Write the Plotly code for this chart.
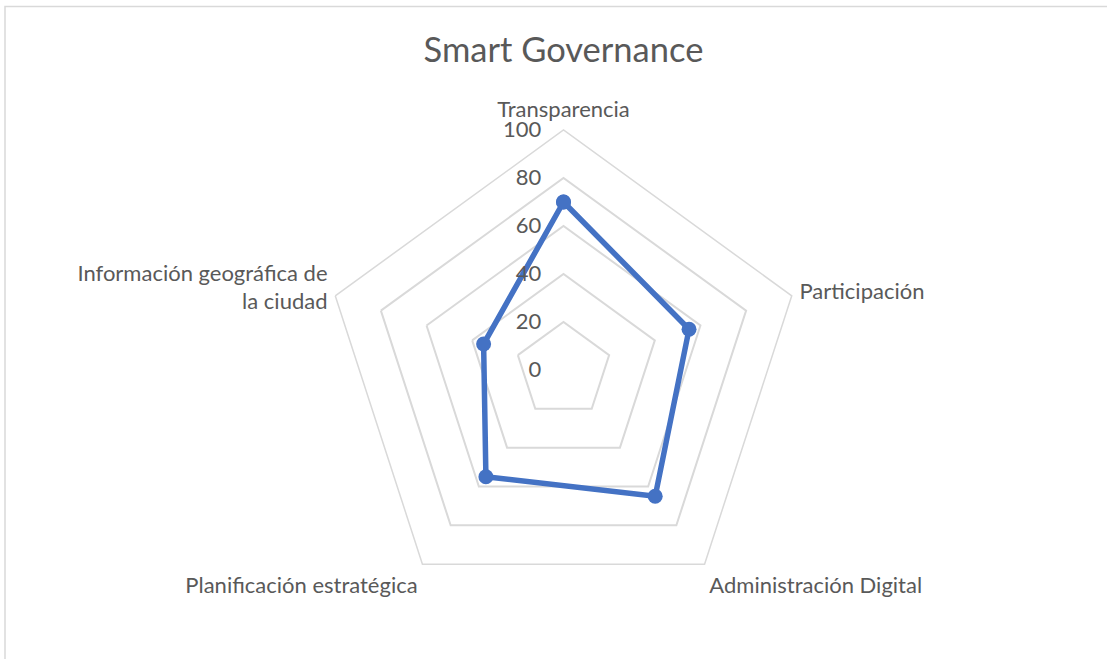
import plotly.graph_objects as go

categories = ["Transparencia", "Participación", "Administración Digital",
              "Planificación estratégica", "Información geográfica de<br>la ciudad"]
values = [70, 55, 65, 55, 35]
radial_ticks = [0, 20, 40, 60, 80, 100]
title_text = "Smart Governance"

W, H = 1107, 659
cx, cy, R = 563.5, 370, 240

fig = go.Figure()
fig.add_trace(go.Scatterpolar(
    r=values + values[:1],
    theta=categories + categories[:1],
    mode="lines+markers",
    line=dict(color="#4472C4", width=5.5),
    marker=dict(color="#4472C4", size=15),
    showlegend=False,
    cliponaxis=False,
))

fig.update_layout(
    width=W, height=H,
    margin=dict(l=0, r=0, t=0, b=0),
    paper_bgcolor="white",
    font=dict(family="Lato", color="#595959", size=22),
    title=dict(text=title_text, x=cx / W, xanchor="center",
               y=1 - 50 / H, yanchor="middle",
               font=dict(size=34.5, color="#595959", family="Lato")),
    polar=dict(
        domain=dict(x=[(cx - R) / W, (cx + R) / W], y=[1 - (cy + R) / H, 1 - (cy - R) / H]),
        bgcolor="white",
        gridshape="linear",
        radialaxis=dict(range=[0, 100], tickvals=radial_ticks, showline=False,
                        gridcolor="#d9d9d9", gridwidth=1.5, angle=90,
                        tickangle=90, ticks="outside", ticklen=14,
                        tickcolor="rgba(0,0,0,0)", side="counterclockwise",
                        tickfont=dict(size=22, color="#595959")),
        angularaxis=dict(rotation=90, direction="clockwise", showgrid=False,
                         showline=True, linecolor="#d9d9d9", linewidth=1.5,
                         ticks="outside", ticklen=3, tickcolor="rgba(0,0,0,0)",
                         tickfont=dict(size=22, color="#595959")),
    ),
    shapes=[dict(type="rect", xref="paper", yref="paper",
                 x0=5 / W, x1=1.05, y0=-0.05, y1=1 - 6.5 / H,
                 line=dict(color="#d9d9d9", width=1.5), fillcolor="rgba(0,0,0,0)")],
)

fig.write_html("out.html", config={"displayModeBar": False},
               post_script="document.body.style.margin='0';document.body.style.overflow='hidden';")
